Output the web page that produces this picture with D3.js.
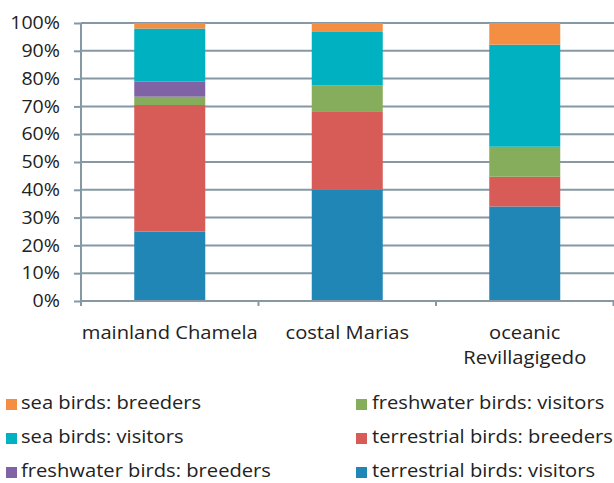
<!DOCTYPE html>
<html>
<head>
<meta charset="utf-8">
<script src="https://cdn.jsdelivr.net/npm/d3@7"></script>
<style>
  body { margin: 0; background: #fff; overflow: hidden; }
  svg { display: block; }
  text { font-family: "Open Sans", sans-serif; fill: #222; }
</style>
</head>
<body>
<svg width="614" height="483"></svg>
<script>
const sites = ['mainland Chamela', 'costal Marias', 'oceanic Revillagigedo'];
const siteLines = [['mainland Chamela'], ['costal Marias'], ['oceanic', 'Revillagigedo']];
const series = [
  'terrestrial birds: visitors',
  'terrestrial birds: breeders',
  'freshwater birds: visitors',
  'freshwater birds: breeders',
  'sea birds: visitors',
  'sea birds: breeders'
];
const terrVisitors = [25, 40, 34];
const terrBreeders = [45.5, 28, 10.7];
const freshVisitors = [3, 9.5, 10.8];
const freshBreeders = [5.5, 0, 0];
const seaVisitors = [19, 19.5, 36.7];
const seaBreeders = [2, 3, 7.8];
const yTicks = [0, 10, 20, 30, 40, 50, 60, 70, 80, 90, 100];
const legendOrder = [
  'sea birds: breeders', 'sea birds: visitors', 'freshwater birds: breeders',
  'freshwater birds: visitors', 'terrestrial birds: breeders', 'terrestrial birds: visitors'
];
const colors = ['#1f86b6', '#d75b57', '#86ad5b', '#7f63a4', '#00b2c1', '#f48e42'];

const svg = d3.select('svg');
const margin = { top: 23, left: 81 };
const innerWidth = 613.5 - margin.left;
const innerHeight = 301 - margin.top;
const axisColor = '#8598a4';
const stretch = 1.12; // the original text is a bit wider than it is tall

const rows = sites.map((s, i) => ({
  site: s,
  [series[0]]: terrVisitors[i],
  [series[1]]: terrBreeders[i],
  [series[2]]: freshVisitors[i],
  [series[3]]: freshBreeders[i],
  [series[4]]: seaVisitors[i],
  [series[5]]: seaBreeders[i]
}));

const stacked = d3.stack().keys(series)(rows);

const xScale = d3.scaleBand()
  .domain(sites)
  .range([0, innerWidth])
  .paddingInner(0.6)
  .paddingOuter(0.3);

const yScale = d3.scaleLinear()
  .domain([0, 100])
  .range([innerHeight, 0]);

const color = d3.scaleOrdinal().domain(series).range(colors);

const g = svg.append('g')
  .attr('transform', `translate(${margin.left},${margin.top})`);

// gridlines
g.selectAll('.grid').data(yTicks).enter().append('line')
  .attr('x1', 0)
  .attr('x2', innerWidth + 10)
  .attr('y1', d => yScale(d))
  .attr('y2', d => yScale(d))
  .attr('stroke', axisColor)
  .attr('stroke-width', 2);

// bars
g.selectAll('.layer').data(stacked).enter().append('g')
  .attr('fill', d => color(d.key))
  .selectAll('rect').data(d => d).enter().append('rect')
    .attr('x', d => xScale(d.data.site))
    .attr('width', xScale.bandwidth())
    .attr('y', d => yScale(d[1]))
    .attr('height', d => yScale(d[0]) - yScale(d[1]));

// y axis
const yAxis = d3.axisLeft(yScale)
  .tickValues(yTicks)
  .tickFormat(d => d + '%')
  .tickSize(7)
  .tickPadding(14);
const yAxisG = g.append('g').call(yAxis);
yAxisG.select('.domain').attr('d', `M0,0V${innerHeight + 5}`);
yAxisG.selectAll('line, path').attr('stroke', axisColor).attr('stroke-width', 2);
yAxisG.selectAll('text')
  .attr('font-size', 17.5)
  .attr('font-family', '"Open Sans", sans-serif')
  .attr('fill', '#222')
  .attr('x', 0)
  .attr('transform', `translate(-21,0) scale(${stretch},1)`);

// x axis
const step = xScale.step();
g.append('g').selectAll('line').data(d3.range(sites.length + 1)).enter().append('line')
  .attr('x1', d => d * step).attr('x2', d => d * step)
  .attr('y1', innerHeight).attr('y2', innerHeight + 5)
  .attr('stroke', axisColor).attr('stroke-width', 2);
g.append('line')
  .attr('x1', 0).attr('x2', innerWidth + 10)
  .attr('y1', innerHeight).attr('y2', innerHeight)
  .attr('stroke', axisColor).attr('stroke-width', 2);

const labelG = g.append('g').selectAll('g').data(sites).enter().append('g')
  .attr('transform', d => `translate(${xScale(d) + xScale.bandwidth() / 2},${innerHeight + 38})`);
labelG.selectAll('text').data((d, i) => siteLines[i]).enter().append('text')
  .attr('text-anchor', 'middle')
  .attr('font-size', 18)
  .attr('transform', (d, i) => `translate(0,${i * 25}) scale(${stretch},1)`)
  .text(d => d);

// legend
const legend = svg.append('g').selectAll('g').data(legendOrder).enter().append('g')
  .attr('transform', (d, i) => `translate(${i < 3 ? 6 : 356},${409 + (i % 3) * 34})`);
legend.append('rect')
  .attr('x', 0).attr('y', -10)
  .attr('width', 11).attr('height', 11)
  .attr('fill', d => color(d));
legend.append('text')
  .attr('transform', (d, i) => `translate(${i < 3 ? 15 : 16},0) scale(${stretch},1)`)
  .attr('font-size', 18)
  .text(d => d);
</script>
</body>
</html>
